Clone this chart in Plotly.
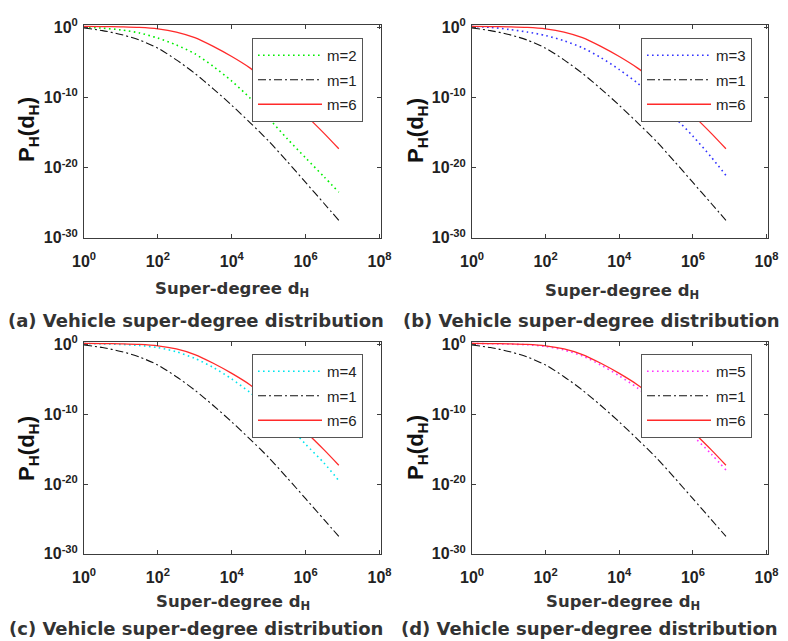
import plotly.graph_objects as go

# ---------------- data ----------------
degree = [1, 3.16, 10, 31.6, 100, 316, 1000, 3160, 1e4, 3.16e4, 1e5, 3.16e5, 1e6, 3.16e6, 7.9e6]

# log10 of P_H(d_H) for each m
log_p_m1 = [-0.08, -0.45, -1.0, -1.8, -2.95, -4.62, -6.55, -8.75, -11.1, -13.6, -16.2, -19.1, -22.1, -25.1, -27.5]
log_p_m2 = [0.05, -0.1, -0.35, -0.78, -1.52, -2.5, -3.75, -5.55, -7.65, -10.1, -12.95, -15.85, -18.6, -21.3, -23.5]
log_p_m3 = [0.12, 0.02, -0.28, -0.65, -1.15, -1.9, -2.9, -4.3, -6.0, -7.95, -10.3, -12.8, -15.5, -18.5, -21.1]
log_p_m4 = [0.12, 0.08, 0.0, -0.15, -0.45, -1.05, -2.0, -3.3, -4.95, -6.9, -9.1, -11.5, -14.3, -17.0, -19.5]
log_p_m5 = [0.13, 0.1, 0.05, -0.05, -0.3, -0.8, -1.65, -2.95, -4.5, -6.25, -8.35, -10.6, -13.1, -15.7, -18.0]
log_p_m6 = [0.15, 0.13, 0.08, 0.0, -0.2, -0.65, -1.45, -2.7, -4.15, -5.8, -7.85, -10.0, -12.5, -15.1, -17.3]

x_tickvals = [1, 1e2, 1e4, 1e6, 1e8]
x_ticktext = ["10<sup>0</sup>", "10<sup>2</sup>", "10<sup>4</sup>", "10<sup>6</sup>", "10<sup>8</sup>"]
y_tickvals = [1e-30, 1e-20, 1e-10, 1]
y_ticktext = ["10<sup>-30</sup>", "10<sup>-20</sup>", "10<sup>-10</sup>", "10<sup>0</sup>"]

panel_labels = ["m=2", "m=3", "m=4", "m=5"]
panel_series = [log_p_m2, log_p_m3, log_p_m4, log_p_m5]
panel_colors = ["#00EE00", "#3333FF", "#00E5EE", "#FF33FF"]
captions = ["(a) Vehicle super-degree distribution", "(b) Vehicle super-degree distribution",
            "(c) Vehicle super-degree distribution", "(d) Vehicle super-degree distribution"]

# ---------------- figure ----------------
W, H = 788, 641
fig = go.Figure()

def px_x(p):
    return p / W

def px_y(p):
    return 1 - p / H

# plot boxes in pixels: (left, right, top, bottom)
boxes = [(84, 381, 25, 238), (472, 768, 25, 238), (84, 381, 342, 554), (472, 768, 342, 554)]
legend_pos = [(252, 38), (641, 38), (252, 354), (641, 354)]
xtitle_pos = [(232, 290), (622, 291), (233, 602), (623, 602)]
ytitle_pos = [(28, 130), (417, 130), (28, 449), (417, 447)]
caption_pos = [(196, 320), (591, 320), (196, 628), (589, 628)]

def to_p(vals):
    return [10 ** v for v in vals]

for i in range(4):
    sfx = "" if i == 0 else str(i + 1)
    xa, ya = "x" + sfx, "y" + sfx
    lg = "legend" + sfx
    fig.add_trace(go.Scatter(x=degree, y=to_p(panel_series[i]), mode="lines", name=panel_labels[i],
                             line=dict(color=panel_colors[i], width=1.6, dash="1.6px,3.4px", shape="spline", smoothing=0.8),
                             xaxis=xa, yaxis=ya, legend=lg, legendgroup=f"g{i}a"))
    fig.add_trace(go.Scatter(x=degree, y=to_p(log_p_m1), mode="lines", name="m=1",
                             line=dict(color="#111111", width=1.1, dash="8px,3px,2px,3px", shape="spline", smoothing=0.8),
                             xaxis=xa, yaxis=ya, legend=lg, legendgroup=f"g{i}b"))
    fig.add_trace(go.Scatter(x=degree, y=to_p(log_p_m6), mode="lines", name="m=6",
                             line=dict(color="#FF2a2a", width=1.3, shape="spline", smoothing=0.8),
                             xaxis=xa, yaxis=ya, legend=lg, legendgroup=f"g{i}c"))

    l, r, t, b = boxes[i]
    axis_common = dict(type="log", showline=True, linecolor="#3c3c3c", linewidth=1, mirror="ticks",
                       ticks="inside", ticklen=4, tickcolor="#3c3c3c", showgrid=False, zeroline=False,
                       automargin=False,
                       tickfont=dict(family="Liberation Sans", size=16, color="#222222", weight="bold"))
    fig.layout["xaxis" + sfx] = dict(axis_common, domain=[px_x(l), px_x(r)], range=[0, 8.04],
                                     tickvals=x_tickvals, ticktext=x_ticktext, anchor=ya,
                                     ticklabelstandoff=9)
    fig.layout["yaxis" + sfx] = dict(axis_common, domain=[px_y(b), px_y(t)], range=[-30.02, 0.35],
                                     tickvals=y_tickvals, ticktext=y_ticktext, anchor=xa,
                                     ticklabelstandoff=2)
    lx, ly = legend_pos[i]
    fig.layout[lg] = dict(x=px_x(lx), y=px_y(ly), xanchor="left", yanchor="top", bgcolor="white",
                          bordercolor="#555555", borderwidth=1, itemwidth=64, tracegroupgap=2,
                          font=dict(family="Liberation Sans", size=15, color="#222222"))

    xt = xtitle_pos[i]
    fig.add_annotation(text="<b>Super-degree d<sub>H</sub></b>", x=px_x(xt[0]), y=px_y(xt[1]),
                       xref="paper", yref="paper", showarrow=False, xanchor="center", yanchor="middle",
                       font=dict(family="DejaVu Sans", size=16.5, color="#333333"))
    yt = ytitle_pos[i]
    fig.add_annotation(text="<b>P<sub>H</sub>(d<sub>H</sub>)</b>", x=px_x(yt[0]), y=px_y(yt[1]),
                       xref="paper", yref="paper", showarrow=False, xanchor="center", yanchor="middle",
                       textangle=-90, font=dict(family="Liberation Sans", size=22, color="#111111"))
    cp = caption_pos[i]
    fig.add_annotation(text="<b>" + captions[i] + "</b>", x=px_x(cp[0]), y=px_y(cp[1]),
                       xref="paper", yref="paper", showarrow=False, xanchor="center", yanchor="middle",
                       font=dict(family="DejaVu Sans", size=18, color="#333333"))

fig.update_layout(width=W, height=H, margin=dict(l=0, r=0, t=0, b=0, autoexpand=False),
                  plot_bgcolor="white", paper_bgcolor="white", showlegend=True)

fig.write_html("out.html", config={"displayModeBar": False},
               post_script="document.body.style.margin='0px';document.body.style.overflow='hidden';")
